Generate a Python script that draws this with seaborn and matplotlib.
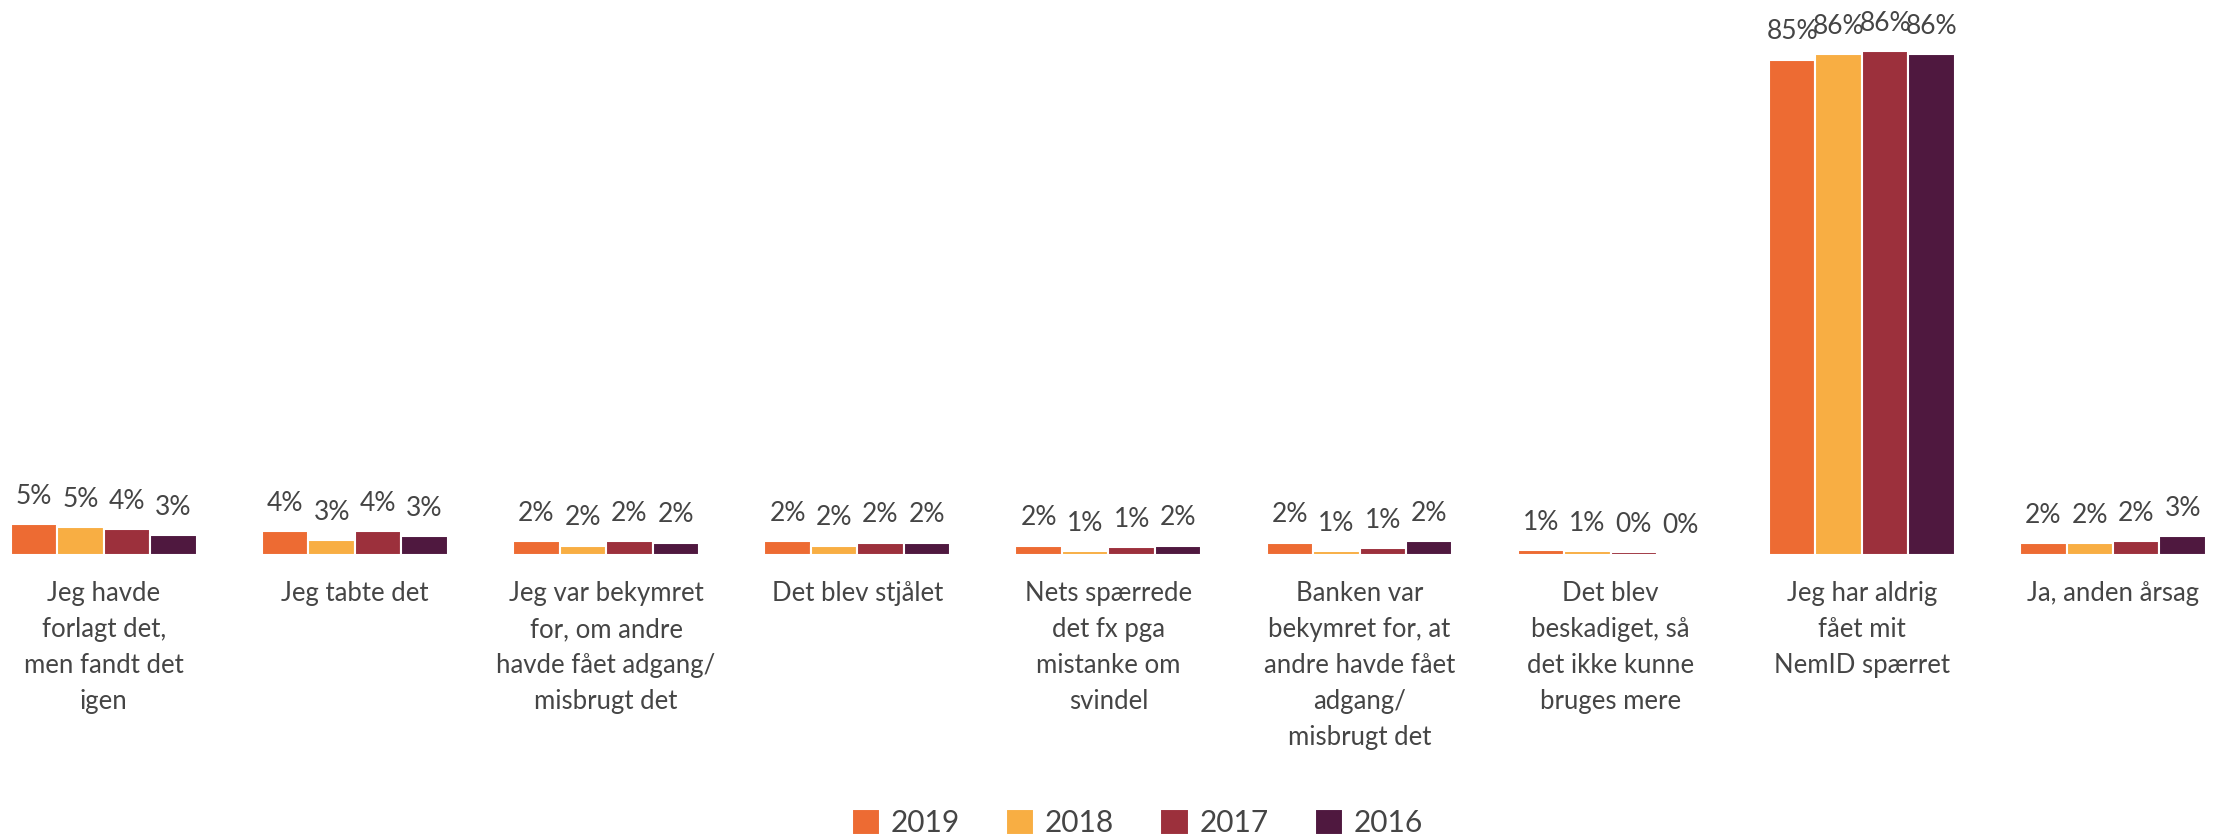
import matplotlib
matplotlib.use('Agg')
import matplotlib.pyplot as plt
import seaborn as sns
import pandas as pd

# kategorier og andele (%) pr. år
categories = [
    'Jeg havde\nforlagt det,\nmen fandt det\nigen',
    'Jeg tabte det',
    'Jeg var bekymret\nfor, om andre\nhavde fået adgang/\nmisbrugt det',
    'Det blev stjålet',
    'Nets spærrede\ndet fx pga\nmistanke om\nsvindel',
    'Banken var\nbekymret for, at\nandre havde fået\nadgang/\nmisbrugt det',
    'Det blev\nbeskadiget, så\ndet ikke kunne\nbruges mere',
    'Jeg har aldrig\nfået mit\nNemID spærret',
    'Ja, anden årsag',
]
years = ['2019', '2018', '2017', '2016']
v2019 = [5.3, 4.1, 2.4, 2.4, 1.6, 2.1, 0.85, 84.7, 2.0]
v2018 = [4.8, 2.6, 1.6, 1.6, 0.6, 0.7, 0.6, 85.6, 2.0]
v2017 = [4.4, 4.1, 2.4, 2.1, 1.4, 1.2, 0.48, 86.1, 2.4]
v2016 = [3.4, 3.2, 2.1, 2.1, 1.6, 2.4, 0.3, 85.7, 3.2]
colors = ['#ED6B33', '#F8AE43', '#9C303C', '#4F183F']

rows = []
for year, vals in zip(years, [v2019, v2018, v2017, v2016]):
    for cat, v in zip(categories, vals):
        rows.append({'kategori': cat, 'år': year, 'andel': v})
df = pd.DataFrame(rows)

sns.set_theme(style='white')
plt.rcParams['font.family'] = ['Lato', 'DejaVu Sans']
textcol = '#454545'

fig = plt.figure(figsize=(22.21, 8.38), dpi=100)
ax = fig.add_axes([0, 0.3377, 1, 0.656])

sns.barplot(data=df, x='kategori', y='andel', hue='år', hue_order=years,
            palette=colors, width=0.74, edgecolor='white', linewidth=1.5,
            saturation=1, ax=ax)

for cont in ax.containers:
    ax.bar_label(cont, fmt='{:.0f}%', padding=11, fontsize=19, color=textcol)

ax.set_xlim(-0.413, 8.43)
ax.set_ylim(0, 94)
ax.set_xlabel('')
ax.set_ylabel('')
ax.set_yticks([])
ax.tick_params(axis='x', length=0, pad=19, labelsize=18.5, labelcolor=textcol)
for lab in ax.get_xticklabels():
    lab.set_linespacing(1.55)
    lab.set_verticalalignment('top')
sns.despine(ax=ax, left=True, bottom=True)

handles, labels = ax.get_legend_handles_labels()
ax.get_legend().remove()
fig.legend(handles, labels, loc='center', bbox_to_anchor=(0.512, 0.018),
           ncol=4, frameon=False, handlelength=0.95,
           handleheight=0.95, columnspacing=1.55, handletextpad=0.35,
           labelcolor=textcol, prop={'size': 21.5})

plt.savefig('out.png', dpi=100)
